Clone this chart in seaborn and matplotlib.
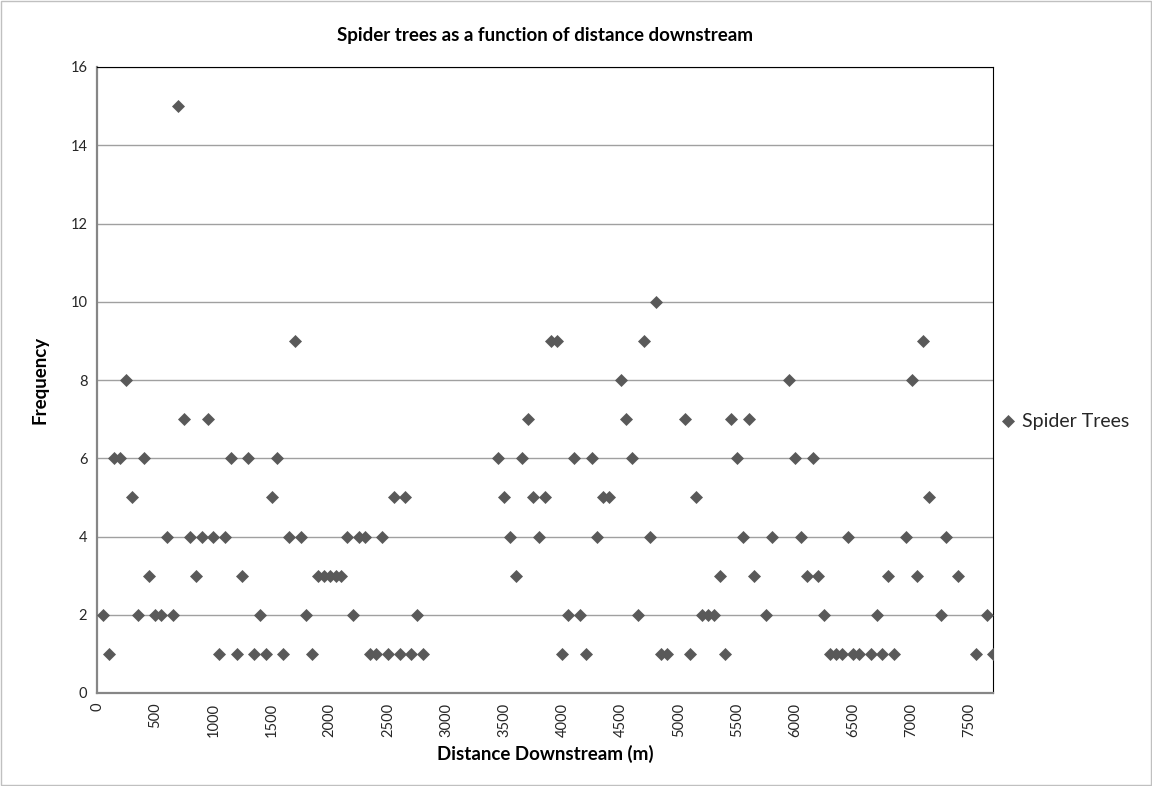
import matplotlib
matplotlib.use("Agg")
import matplotlib.pyplot as plt
import seaborn as sns
import pandas as pd
from matplotlib.patches import Rectangle

# ---- data ----
distance_m = [
    50, 100, 150, 200, 250, 300, 350, 400, 450, 500,
    550, 600, 650, 700, 750, 800, 850, 900, 950, 1000,
    1050, 1100, 1150, 1200, 1250, 1300, 1350, 1400, 1450, 1500,
    1550, 1600, 1650, 1700, 1750, 1800, 1850, 1900, 1950, 2000,
    2050, 2100, 2150, 2200, 2250, 2300, 2350, 2400, 2450, 2500,
    2550, 2600, 2650, 2700, 2750, 2800,
    3450, 3500, 3550, 3600, 3650, 3700, 3750, 3800, 3850, 3900,
    3950, 4000, 4050, 4100, 4150, 4200, 4250, 4300, 4350, 4400,
    4500, 4550, 4600, 4650, 4700, 4750, 4800, 4850, 4900,
    5050, 5100, 5150, 5200, 5250, 5300, 5350, 5400, 5450, 5500,
    5550, 5600, 5650, 5750, 5800,
    5950, 6000, 6050, 6100, 6150, 6200, 6250, 6300, 6350, 6400,
    6450, 6500, 6550, 6650, 6700, 6750, 6800, 6850,
    6950, 7000, 7050, 7100, 7150, 7250, 7300, 7400, 7550, 7650, 7700,
]
frequency = [
    2, 1, 6, 6, 8, 5, 2, 6, 3, 2,
    2, 4, 2, 15, 7, 4, 3, 4, 7, 4,
    1, 4, 6, 1, 3, 6, 1, 2, 1, 5,
    6, 1, 4, 9, 4, 2, 1, 3, 3, 3,
    3, 3, 4, 2, 4, 4, 1, 1, 4, 1,
    5, 1, 5, 1, 2, 1,
    6, 5, 4, 3, 6, 7, 5, 4, 5, 9,
    9, 1, 2, 6, 2, 1, 6, 4, 5, 5,
    8, 7, 6, 2, 9, 4, 10, 1, 1,
    7, 1, 5, 2, 2, 2, 3, 1, 7, 6,
    4, 7, 3, 2, 4,
    8, 6, 4, 3, 6, 3, 2, 1, 1, 1,
    4, 1, 1, 1, 2, 1, 3, 1,
    4, 8, 3, 9, 5, 2, 4, 3, 1, 2, 1,
]
series_name = "Spider Trees"
x_ticks = list(range(0, 8000, 500))
y_ticks = list(range(0, 17, 2))

title = "Spider trees as a function of distance downstream"
x_label = "Distance Downstream (m)"
y_label = "Frequency"

df = pd.DataFrame({"distance": distance_m, "freq": frequency})

sns.set_theme(style="white")
plt.rcParams["font.family"] = ["Lato", "DejaVu Sans"]

W, H = 1152, 786
fig = plt.figure(figsize=(W / 100, H / 100), dpi=100)
ax = fig.add_axes([97 / W, 1 - 693 / H, (993 - 97) / W, (693 - 67) / H])

marker_color = "#595959"
sns.scatterplot(data=df, x="distance", y="freq", marker="D", color=marker_color,
                s=44, linewidth=0, label=series_name, ax=ax, zorder=3)

ax.set_xlim(0, 7700)
ax.set_ylim(0, 16)
ax.set_xticks(x_ticks)
ax.set_yticks(y_ticks)
ax.set_xticklabels([str(v) for v in x_ticks], rotation=90, fontsize=10.5, color="#262626")
ax.set_yticklabels([str(v) for v in y_ticks], fontsize=10.5, color="#262626")
ax.tick_params(axis="both", length=0, pad=7)

ax.yaxis.grid(True, color="#a0a0a0", linewidth=1.0)
ax.xaxis.grid(False)
ax.set_axisbelow(True)

for s in ["left", "bottom"]:
    ax.spines[s].set_color("#868686")
    ax.spines[s].set_linewidth(1.6)
for s in ["top", "right"]:
    ax.spines[s].set_color("#000000")
    ax.spines[s].set_linewidth(0.8)

ax.set_xlabel(x_label, fontsize=13.5, fontweight="bold", color="#000000", labelpad=6)
ax.set_ylabel(y_label, fontsize=13.5, fontweight="bold", color="#000000", labelpad=16)
ax.set_title(title, fontsize=13.5, fontweight="bold", color="#000000", pad=19)

ax.get_legend().remove()
handles, labels = ax.get_legend_handles_labels()
fig.legend(handles, labels, loc="center left", bbox_to_anchor=(989 / W, 1 - 421 / H),
           frameon=False, fontsize=14, handletextpad=0.1, markerscale=1.0,
           borderaxespad=0, handlelength=1.2)

fig.patches.append(Rectangle((0.0008, 0.001), 0.998, 0.998, transform=fig.transFigure,
                             fill=False, edgecolor="#c0c0c0", linewidth=1.0))

fig.savefig("out.png", dpi=100)
